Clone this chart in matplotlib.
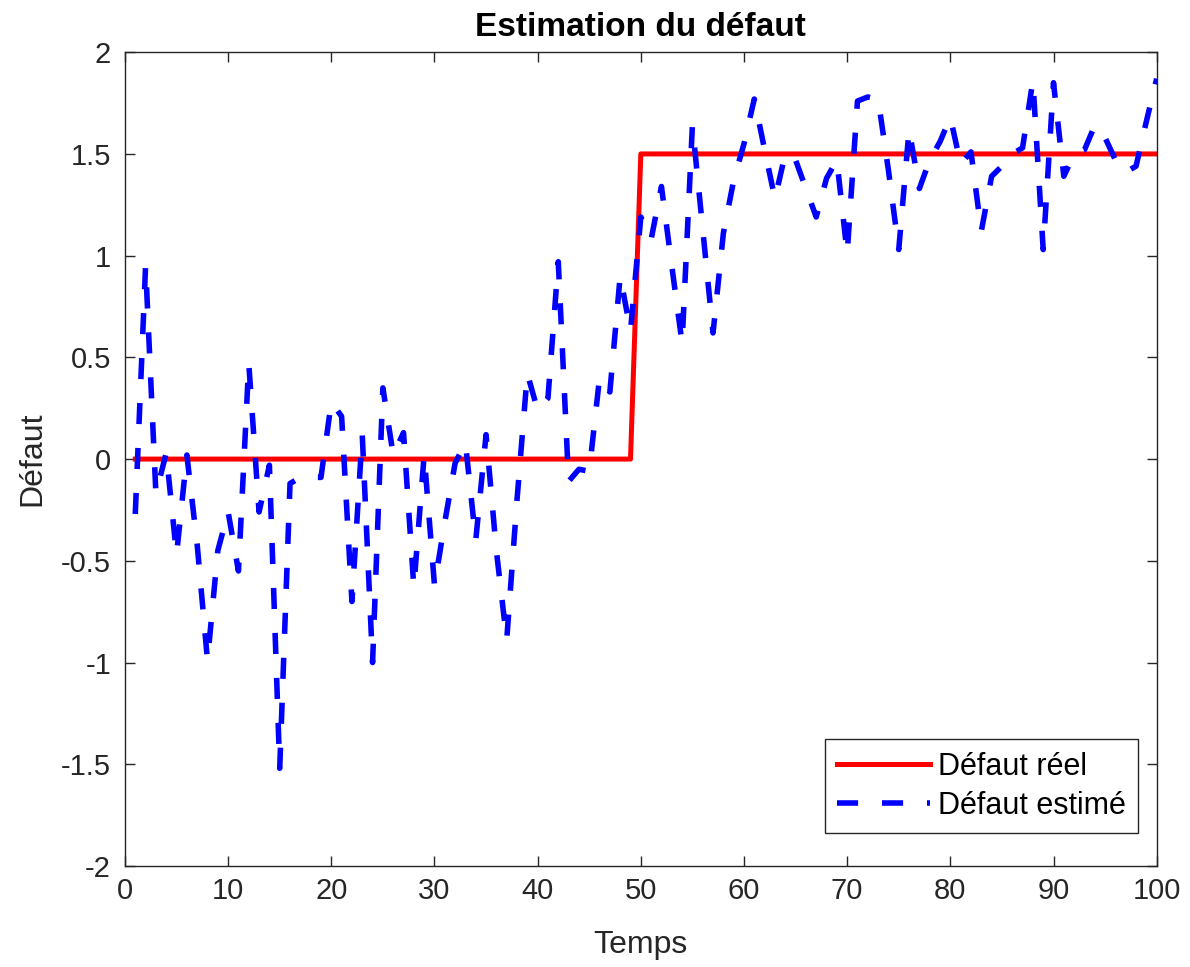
import matplotlib.pyplot as plt
import numpy as np

plt.rcParams['font.family'] = ['Liberation Sans', 'DejaVu Sans']

# time steps
temps = np.arange(1, 101)

# real fault: step at t=50
defaut_reel = [0.0] * 49 + [1.5] * 51

# estimated fault
defaut_estime = [
    -0.27, 0.95, -0.17, 0.03, -0.47, 0.02, -0.42, -0.99, -0.45, -0.26,
    -0.55, 0.47, -0.26, -0.03, -1.52, -0.12, -0.09, -0.09, -0.09, 0.28,
    0.21, -0.70, 0.12, -1.00, 0.35, 0.02, 0.13, -0.63, 0.02, -0.62,
    -0.31, -0.02, 0.08, -0.40, 0.12, -0.45, -0.89, -0.20, 0.42, 0.24,
    0.30, 0.97, -0.11, -0.05, -0.06, 0.40, 0.33, 0.90, 0.63, 1.19,
    1.08, 1.34, 0.95, 0.57, 1.64, 1.13, 0.62, 1.11, 1.37, 1.55,
    1.77, 1.52, 1.28, 1.50, 1.47, 1.33, 1.19, 1.38, 1.47, 1.01,
    1.76, 1.78, 1.77, 1.42, 1.03, 1.62, 1.33, 1.47, 1.56, 1.68,
    1.45, 1.51, 1.12, 1.39, 1.44, 1.50, 1.53, 1.86, 1.03, 1.85,
    1.39, 1.50, 1.52, 1.64, 1.58, 1.47, 1.41, 1.44, 1.66, 1.87,
]

fig = plt.figure(figsize=(11.9, 9.67), dpi=100)
ax = fig.add_axes([0.105, 0.1045, 0.867, 0.8415])

ax.plot(temps, defaut_reel, color='red', linewidth=3.6, label='Défaut réel')
ax.plot(temps, defaut_estime, color='blue', linewidth=4, linestyle=(0, (3.8, 4.3)),
        label='Défaut estimé')

ax.set_xlim(0, 100)
ax.set_ylim(-2, 2)
ax.set_xticks(np.arange(0, 101, 10))
ax.set_yticks(np.arange(-2, 2.01, 0.5))
ax.set_yticklabels(['-2', '-1.5', '-1', '-0.5', '0', '0.5', '1', '1.5', '2'])

ax.tick_params(direction='in', length=7, width=1, labelsize=21, colors='#262626',
               top=True, right=True)
ax.tick_params(axis='y', pad=10)
ax.tick_params(axis='x', pad=8)
for s in ax.spines.values():
    s.set_color('#262626')
    s.set_linewidth(1)

ax.set_title('Estimation du défaut', fontsize=24, fontweight='bold', pad=12)
ax.set_xlabel('Temps', fontsize=23, color='#262626', labelpad=18)
ax.set_ylabel('Défaut', fontsize=23, color='#262626', labelpad=10)

leg = ax.legend(loc='lower right', bbox_to_anchor=(0.9816, 0.0405), borderaxespad=0,
                fontsize=22, fancybox=False, framealpha=1, edgecolor='#262626',
                handlelength=3.05, handletextpad=0.25, borderpad=0.4,
                labelspacing=0.3)
leg.get_frame().set_linewidth(1)

fig.savefig('out.png')
